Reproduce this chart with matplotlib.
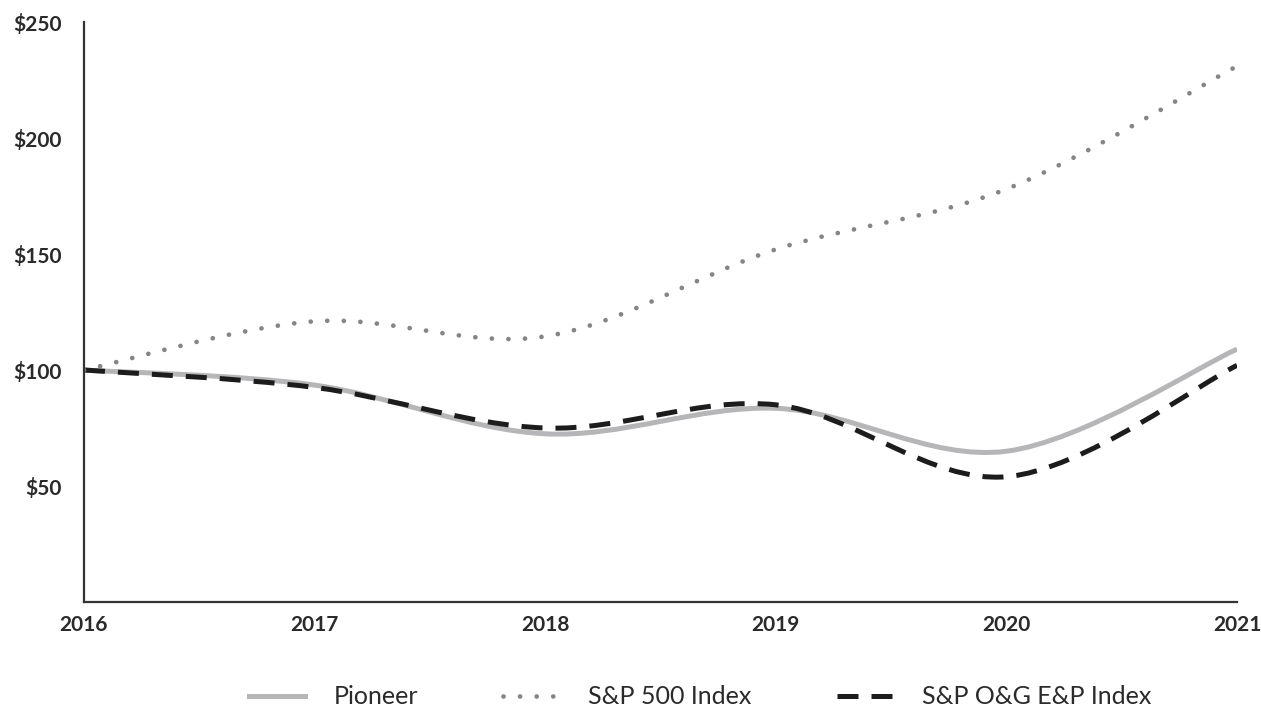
import numpy as np
import matplotlib.pyplot as plt
from matplotlib.path import Path
from matplotlib.patches import PathPatch
from matplotlib.lines import Line2D

years = [2016, 2017, 2018, 2019, 2020, 2021]
pioneer = [100, 93.5, 72.5, 83.5, 65, 109]
sp500 = [100, 121, 114.5, 152, 178, 231]
og_ep = [100, 92.5, 75, 85, 54, 102]

y_ticks = [50, 100, 150, 200, 250]
y_labels = ["$50", "$100", "$150", "$200", "$250"]

plt.rcParams['font.family'] = ['Lato', 'DejaVu Sans']


def smooth_path(x, y):
    """Catmull-Rom style bezier through the data points (like a smoothed line)."""
    pts = np.column_stack([x, y]).astype(float)
    ext = np.vstack([pts[0], pts, pts[-1]])
    verts = [pts[0]]
    codes = [Path.MOVETO]
    for i in range(1, len(ext) - 2):
        p0, p1, p2, p3 = ext[i - 1], ext[i], ext[i + 1], ext[i + 2]
        c1 = p1 + (p2 - p0) / 6.0
        c2 = p2 - (p3 - p1) / 6.0
        verts += [c1, c2, p2]
        codes += [Path.CURVE4] * 3
    return Path(verts, codes)


fig = plt.figure(figsize=(12.61, 7.11), dpi=100)
ax = fig.add_axes([0.0666, 0.1533, 0.9144, 0.8157])

styles = [
    (pioneer, dict(edgecolor='#b6b6b8', linewidth=3.6, linestyle='-', capstyle='butt')),
    (og_ep, dict(edgecolor='#1c1c1c', linewidth=3.6, linestyle=(0, (4.2, 2.6)), capstyle='butt')),
    (sp500, dict(edgecolor='#858587', linewidth=3.4, linestyle=(0, (0.01, 3.5)), capstyle='round')),
]
for vals, kw in styles:
    ax.add_patch(PathPatch(smooth_path(years, vals), fill=False, **kw))

ax.set_xlim(2016, 2021)
ax.set_ylim(0, 250)
ax.set_xticks(years)
ax.set_xticklabels([str(y) for y in years])
ax.set_yticks(y_ticks)
ax.set_yticklabels(y_labels)

for s in ['top', 'right']:
    ax.spines[s].set_visible(False)
for s in ['left', 'bottom']:
    ax.spines[s].set_color('#333333')
    ax.spines[s].set_linewidth(1.6)

ax.tick_params(axis='both', length=0, labelsize=15, colors='#2a2a2a')
ax.tick_params(axis='y', pad=16)
ax.tick_params(axis='x', pad=9)
for lbl in ax.get_xticklabels() + ax.get_yticklabels():
    lbl.set_fontweight('bold')

handles = [
    Line2D([], [], color='#b6b6b8', lw=3.6),
    Line2D([], [], color='#858587', lw=3.4, linestyle=(0, (0.01, 3.5)), dash_capstyle='round'),
    Line2D([], [], color='#1c1c1c', lw=3.6, linestyle=(0, (4.2, 2.6))),
]
fig.legend(handles, ['Pioneer', 'S&P 500 Index', 'S&P O&G E&P Index'],
           loc='center', bbox_to_anchor=(0.555, 0.02), ncol=3, frameon=False,
           fontsize=18, handlelength=2.25, handletextpad=1.15, columnspacing=3.4,
           labelcolor='#2a2a2a')

plt.savefig('out.png', dpi=100)
